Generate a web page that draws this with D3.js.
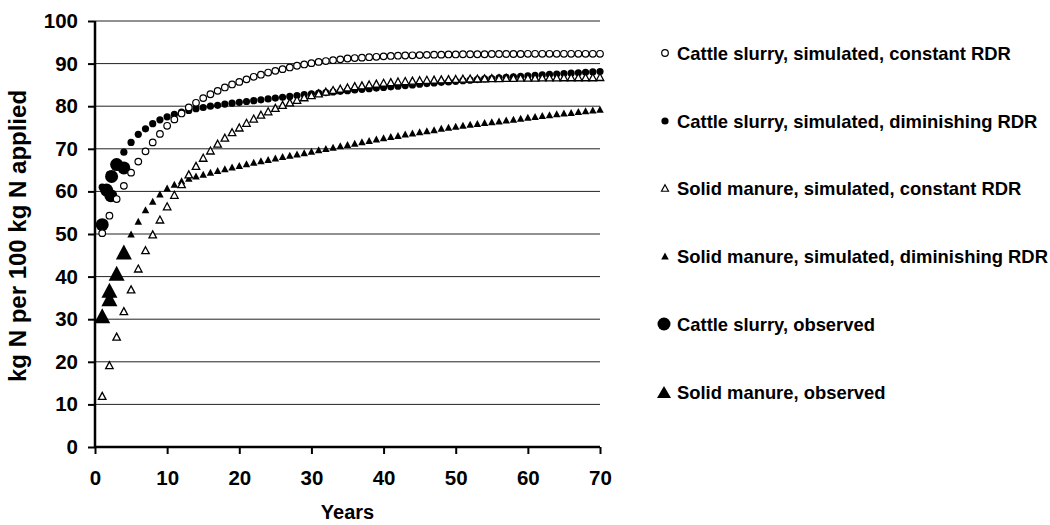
<!DOCTYPE html>
<html>
<head>
<meta charset="utf-8">
<script src="https://cdn.jsdelivr.net/npm/d3@7"></script>
<style>
  html, body { margin: 0; padding: 0; background: #fff; }
  svg { display: block; font-family: "Liberation Sans", Arial, sans-serif; font-weight: bold; }
</style>
</head>
<body>
<svg id="chart" width="1050" height="525"></svg>
<script>
// ---------------- data ----------------
const years = [1,2,3,4,5,6,7,8,9,10,11,12,13,14,15,16,17,18,19,20,
  21,22,23,24,25,26,27,28,29,30,31,32,33,34,35,36,37,38,39,40,
  41,42,43,44,45,46,47,48,49,50,51,52,53,54,55,56,57,58,59,60,
  61,62,63,64,65,66,67,68,69,70];

const cattleConstant = [50.2,54.3,58.2,61.3,64.4,67.0,69.4,71.5,73.5,75.4,
  76.9,78.3,79.7,80.8,81.9,82.8,83.6,84.4,85.1,85.7,
  86.3,86.9,87.4,87.9,88.3,88.7,89.1,89.5,89.8,90.1,
  90.4,90.6,90.8,91.0,91.2,91.3,91.4,91.5,91.6,91.7,
  91.8,91.85,91.9,91.95,92.0,92.05,92.1,92.1,92.15,92.15,
  92.2,92.2,92.2,92.2,92.25,92.25,92.25,92.25,92.25,92.3,
  92.3,92.3,92.3,92.3,92.3,92.3,92.3,92.3,92.3,92.3];

const cattleDiminishing = [61.0,64.0,66.8,69.2,71.5,73.4,74.7,75.9,76.8,77.5,
  78.1,78.6,79.0,79.4,79.7,80.0,80.2,80.5,80.7,80.9,
  81.1,81.3,81.5,81.7,81.9,82.1,82.3,82.5,82.7,82.9,
  83.05,83.2,83.35,83.5,83.65,83.8,83.95,84.1,84.25,84.4,
  84.55,84.7,84.85,85.0,85.15,85.3,85.45,85.6,85.7,85.85,
  86.0,86.1,86.25,86.4,86.5,86.65,86.75,86.9,87.0,87.1,
  87.25,87.35,87.45,87.55,87.65,87.75,87.85,87.95,88.05,88.15];

const solidConstant = [12.0,19.2,25.9,31.9,37.0,41.9,46.2,49.9,53.4,56.5,
  59.2,61.7,64.0,66.0,67.9,69.6,71.2,72.6,73.9,75.0,
  76.1,77.1,78.0,78.8,79.6,80.3,80.9,81.5,82.1,82.6,
  83.0,83.4,83.8,84.1,84.4,84.7,84.9,85.1,85.3,85.5,
  85.65,85.8,85.9,86.0,86.1,86.2,86.25,86.3,86.35,86.4,
  86.45,86.5,86.5,86.55,86.6,86.6,86.65,86.65,86.7,86.7,
  86.7,86.75,86.75,86.75,86.8,86.8,86.8,86.8,86.8,86.85];

const solidDiminishing = [31.0,35.8,40.5,46.3,50.0,53.0,55.7,57.7,59.4,60.8,
  61.7,62.5,63.1,63.6,64.0,64.5,64.9,65.3,65.7,66.1,
  66.5,66.85,67.2,67.5,67.85,68.2,68.5,68.8,69.1,69.4,
  69.75,70.05,70.35,70.7,71.0,71.3,71.65,71.95,72.3,72.6,
  72.9,73.15,73.45,73.7,74.0,74.25,74.5,74.8,75.05,75.3,
  75.5,75.75,75.95,76.15,76.35,76.55,76.75,76.95,77.2,77.4,
  77.6,77.8,78.0,78.2,78.4,78.55,78.75,78.95,79.1,79.3];

const cattleObservedYears = [1, 1.6, 2.2, 2.3, 3, 4];
const cattleObserved = [52.2, 60.3, 59.0, 63.5, 66.3, 65.5];
const solidObservedYears = [1, 2, 2, 3, 4];
const solidObserved = [30.8, 34.8, 36.8, 40.8, 45.8];

const legendLabels = [
  "Cattle slurry, simulated, constant RDR",
  "Cattle slurry, simulated, diminishing RDR",
  "Solid manure, simulated, constant RDR",
  "Solid manure, simulated, diminishing RDR",
  "Cattle slurry, observed",
  "Solid manure, observed"
];
const xTicks = [0,10,20,30,40,50,60,70];
const yTicks = [0,10,20,30,40,50,60,70,80,90,100];

// ---------------- layout ----------------
const svg = d3.select("#chart");
const mLeft = 95, mRight = 600, mTop = 21, mBottom = 447;
const x = d3.scaleLinear().domain([0, 70]).range([mLeft, mRight]);
const y = d3.scaleLinear().domain([0, 100]).range([mBottom, mTop]);

function triPath(w, h) {
  return `M0,${-h/2}L${w/2},${h/2}L${-w/2},${h/2}Z`;
}

// gridlines
svg.append("g").selectAll("line").data(yTicks.filter(t => t > 0)).join("line")
  .attr("x1", mLeft).attr("x2", mRight)
  .attr("y1", d => y(d)).attr("y2", d => y(d))
  .attr("stroke", "#222").attr("stroke-width", 1);

// axes
const yAxis = d3.axisLeft(y).tickValues(yTicks).tickSize(7).tickPadding(10);
const xAxis = d3.axisBottom(x).tickValues(xTicks).tickSize(7).tickPadding(16);

const gy = svg.append("g").attr("transform", `translate(${mLeft},0)`).call(yAxis);
const gx = svg.append("g").attr("transform", `translate(0,${mBottom})`).call(xAxis);
[gx, gy].forEach(g => {
  g.select(".domain").attr("stroke", "#000").attr("stroke-width", 2.5);
  g.selectAll(".tick line").attr("stroke", "#000").attr("stroke-width", 2);
  g.selectAll(".tick text").attr("fill", "#000")
    .style("font-family", '"Liberation Sans", Arial, sans-serif')
    .style("font-weight", "bold").style("font-size", "20.5px");
});
gy.select(".domain").attr("d", `M0,${mTop}V${mBottom}`);
gx.select(".domain").attr("d", `M${mLeft},0H${mRight}`);

// observed (big markers)
svg.append("g").selectAll("circle").data(cattleObserved).join("circle")
  .attr("cx", (d, i) => x(cattleObservedYears[i])).attr("cy", d => y(d))
  .attr("r", 6.5).attr("fill", "#000");
svg.append("g").selectAll("path").data(solidObserved).join("path")
  .attr("transform", (d, i) => `translate(${x(solidObservedYears[i])},${y(d)})`)
  .attr("d", triPath(16, 15)).attr("fill", "#000");

// simulated, diminishing (filled small)
svg.append("g").selectAll("path").data(solidDiminishing).join("path")
  .attr("transform", (d, i) => `translate(${x(years[i])},${y(d)})`)
  .attr("d", triPath(7.5, 7)).attr("fill", "#000");
svg.append("g").selectAll("circle").data(cattleDiminishing).join("circle")
  .attr("cx", (d, i) => x(years[i])).attr("cy", d => y(d))
  .attr("r", 3.6).attr("fill", "#000");

// simulated, constant (open small)
svg.append("g").selectAll("path").data(solidConstant).join("path")
  .attr("transform", (d, i) => `translate(${x(years[i])},${y(d)})`)
  .attr("d", triPath(7.5, 7)).attr("fill", "#fff").attr("stroke", "#000").attr("stroke-width", 1.3);
svg.append("g").selectAll("circle").data(cattleConstant).join("circle")
  .attr("cx", (d, i) => x(years[i])).attr("cy", d => y(d))
  .attr("r", 3.3).attr("fill", "#fff").attr("stroke", "#000").attr("stroke-width", 1.2);

// axis titles
svg.append("text").attr("x", (mLeft + mRight) / 2).attr("y", 519)
  .attr("text-anchor", "middle").style("font-size", "20px").text("Years");
svg.append("text").attr("transform", `translate(26,236) rotate(-90)`)
  .attr("text-anchor", "middle").style("font-size", "24px").text("kg N per 100 kg N applied");

// legend
const legY = [53, 121, 188, 256, 324, 392];
const lg = svg.append("g");
legendLabels.forEach((lab, i) => {
  const cy = legY[i], cx = 665;
  if (i === 0) lg.append("circle").attr("cx", cx).attr("cy", cy).attr("r", 3.3)
    .attr("fill", "#fff").attr("stroke", "#000").attr("stroke-width", 1.2);
  if (i === 1) lg.append("circle").attr("cx", cx).attr("cy", cy).attr("r", 3.6).attr("fill", "#000");
  if (i === 2) lg.append("path").attr("transform", `translate(${cx},${cy})`).attr("d", triPath(7, 6.5))
    .attr("fill", "#fff").attr("stroke", "#000").attr("stroke-width", 1.2);
  if (i === 3) lg.append("path").attr("transform", `translate(${cx},${cy})`).attr("d", triPath(7.5, 7)).attr("fill", "#000");
  if (i === 4) lg.append("circle").attr("cx", cx - 1).attr("cy", cy).attr("r", 6.5).attr("fill", "#000");
  if (i === 5) lg.append("path").attr("transform", `translate(${cx - 1},${cy})`).attr("d", triPath(14, 12)).attr("fill", "#000");
  lg.append("text").attr("x", 677).attr("y", cy).attr("dy", "0.36em")
    .style("font-size", "18.4px").attr("fill", "#000").text(lab);
});
</script>
</body>
</html>
